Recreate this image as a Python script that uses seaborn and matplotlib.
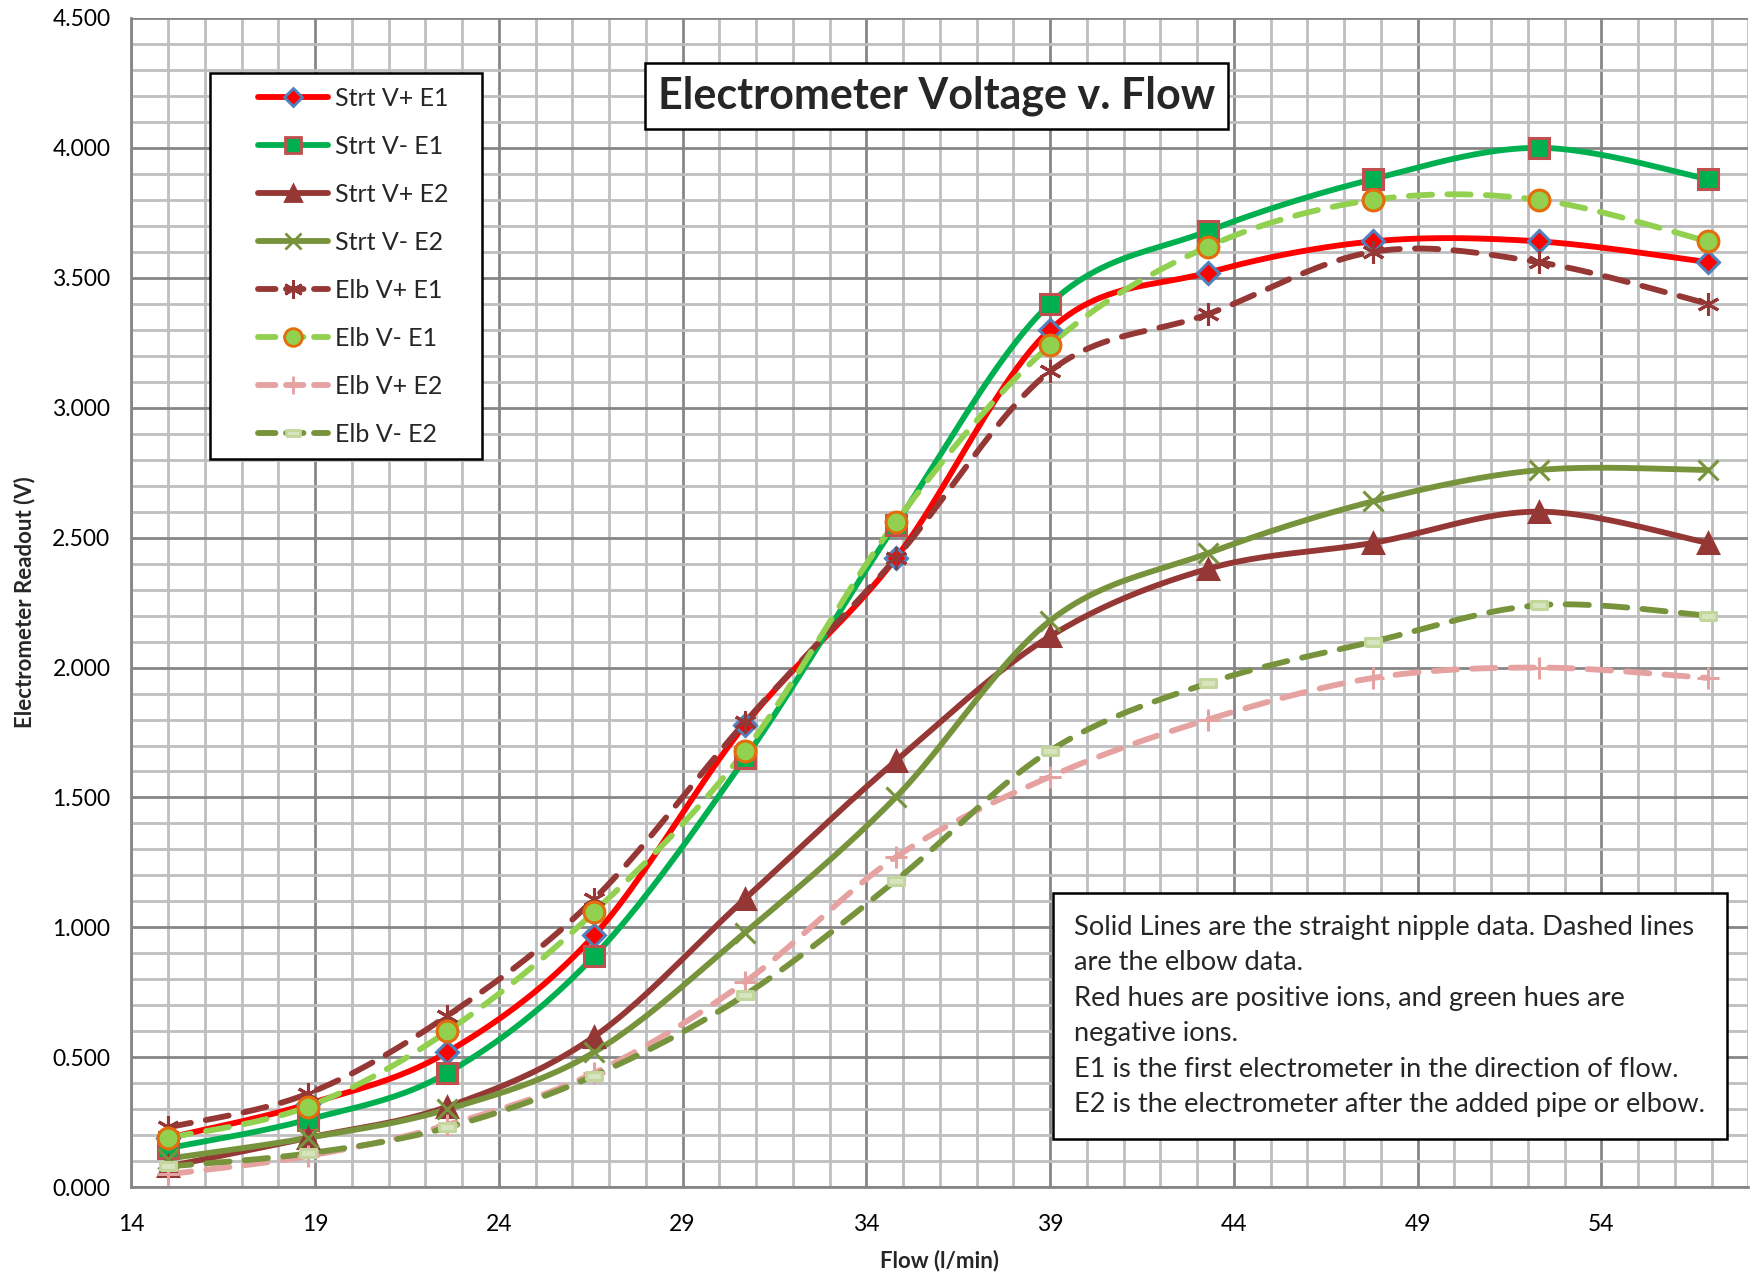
import numpy as np
import pandas as pd
import matplotlib
matplotlib.use("Agg")
import matplotlib.pyplot as plt
from matplotlib.lines import Line2D
from matplotlib.patches import Rectangle
from matplotlib.ticker import MultipleLocator
import seaborn as sns

# flow values (l/min)
flow = [15.0, 18.8, 22.6, 26.6, 30.7, 34.8, 39.0, 43.3, 47.8, 52.3, 56.9]

# electrometer readouts (V)
strt_vp_e1 = [0.19, 0.32, 0.52, 0.97, 1.78, 2.42, 3.30, 3.52, 3.64, 3.64, 3.56]
strt_vm_e1 = [0.15, 0.26, 0.44, 0.89, 1.65, 2.55, 3.40, 3.68, 3.88, 4.00, 3.88]
strt_vp_e2 = [0.08, 0.19, 0.31, 0.58, 1.11, 1.64, 2.12, 2.38, 2.48, 2.60, 2.48]
strt_vm_e2 = [0.11, 0.19, 0.30, 0.52, 0.98, 1.50, 2.18, 2.44, 2.64, 2.76, 2.76]
elb_vp_e1 = [0.23, 0.36, 0.66, 1.11, 1.79, 2.42, 3.14, 3.36, 3.60, 3.56, 3.40]
elb_vm_e1 = [0.19, 0.31, 0.60, 1.06, 1.68, 2.56, 3.24, 3.62, 3.80, 3.80, 3.64]
elb_vp_e2 = [0.05, 0.12, 0.24, 0.44, 0.79, 1.27, 1.58, 1.80, 1.96, 2.00, 1.96]
elb_vm_e2 = [0.08, 0.13, 0.23, 0.43, 0.74, 1.18, 1.68, 1.94, 2.10, 2.24, 2.20]

series_names = ["Strt V+ E1", "Strt V- E1", "Strt V+ E2", "Strt V- E2",
                "Elb V+ E1", "Elb V- E1", "Elb V+ E2", "Elb V- E2"]
series_values = [strt_vp_e1, strt_vm_e1, strt_vp_e2, strt_vm_e2,
                 elb_vp_e1, elb_vm_e1, elb_vp_e2, elb_vm_e2]

note = ("Solid Lines are the straight nipple data. Dashed lines\n"
        "are the elbow data.\n"
        "Red hues are positive ions, and green hues are\n"
        "negative ions.\n"
        "E1 is the first electrometer in the direction of flow.\n"
        "E2 is the electrometer after the added pipe or elbow.")

rect_marker = [(-1, -0.45), (1, -0.45), (1, 0.45), (-1, 0.45), (-1, -0.45)]

# line colour, dashed, marker, marker size, face, edge
styles = {
    "Strt V+ E1": ("#FF0000", False, "D", 11, "#FF0000", "#4F81BD"),
    "Strt V- E1": ("#00B050", False, "s", 14, "#00B050", "#C0504D"),
    "Strt V+ E2": ("#953735", False, "^", 14, "#953735", "#953735"),
    "Strt V- E2": ("#77933C", False, "x", 14, "#77933C", "#77933C"),
    "Elb V+ E1": ("#953735", True, (6, 2, 0), 16, "#953735", "#953735"),
    "Elb V- E1": ("#92D050", True, "o", 15, "#92D050", "#E46C0A"),
    "Elb V+ E2": ("#E6A1A1", True, "+", 16, "#E6A1A1", "#E6A1A1"),
    "Elb V- E2": ("#77933C", True, rect_marker, 12, "#D7E4BD", "#C3D69B"),
}


def smooth(x, y, n=24):
    # Catmull-Rom curve through the points, like Excel's smoothed lines
    p = np.column_stack([x, y])
    p = np.vstack([p[0], p, p[-1]])
    out = []
    t = np.linspace(0, 1, n, endpoint=False)[:, None]
    for i in range(1, len(p) - 2):
        p0, p1, p2, p3 = p[i - 1], p[i], p[i + 1], p[i + 2]
        seg = 0.5 * ((2 * p1) + (-p0 + p2) * t + (2 * p0 - 5 * p1 + 4 * p2 - p3) * t ** 2
                     + (-p0 + 3 * p1 - 3 * p2 + p3) * t ** 3)
        out.append(seg)
    out.append(p[-2][None, :])
    out = np.vstack(out)
    return out[:, 0], out[:, 1]


sns.set_theme(style="white")
plt.rcParams["font.family"] = ["Lato", "DejaVu Sans"]

fig = plt.figure(figsize=(17.5, 12.78), dpi=100)
ax = fig.add_axes([0.075, 0.071, 0.924, 0.915])

ax.set_xlim(14, 58)
ax.set_ylim(0, 4.5)
ax.xaxis.set_major_locator(MultipleLocator(5))
ax.xaxis.set_minor_locator(MultipleLocator(1))
ax.yaxis.set_major_locator(MultipleLocator(0.5))
ax.yaxis.set_minor_locator(MultipleLocator(0.1))
ax.grid(True, which="minor", color="#BFBFBF", linewidth=2.0, zorder=0)
ax.grid(True, which="major", color="#868686", linewidth=2.0, zorder=0)
ax.set_axisbelow(True)
ax.set_xticks(np.arange(14, 58, 5))
ax.yaxis.set_major_formatter(plt.FuncFormatter(lambda v, p: f"{v:.3f}"))

for name, vals in zip(series_names, series_values):
    col, dashed, mk, ms, fc, ec = styles[name]
    sx, sy = smooth(flow, vals)
    sns.lineplot(x=sx, y=sy, ax=ax, color=col, linewidth=4.2, sort=False,
                 linestyle=(0, (4, 2.6)) if dashed else "-",
                 solid_capstyle="round", dash_capstyle="round", zorder=3)
    ax.plot(flow, vals, linestyle="none", marker=mk, markersize=ms,
            markerfacecolor=fc, markeredgecolor=ec, markeredgewidth=2.2, zorder=4)

for side in ["top", "right"]:
    ax.spines[side].set_visible(False)
for side in ["left", "bottom"]:
    ax.spines[side].set_color("#868686")
    ax.spines[side].set_linewidth(2)

ax.tick_params(axis="both", which="major", length=7, width=1.5, color="#868686",
               labelsize=16.5, labelcolor="black", pad=12, direction="out")
ax.tick_params(axis="both", which="minor", length=0)
ax.tick_params(axis="y", pad=8)
ax.set_xlabel("Flow (l/min)", fontsize=16, fontweight="bold", labelpad=11)
ax.set_ylabel("Electrometer Readout (V)", fontsize=16, fontweight="bold", labelpad=12)

handles = []
for name in series_names:
    col, dashed, mk, ms, fc, ec = styles[name]
    handles.append(Line2D([0], [0], color=col, linewidth=4.2,
                          linestyle=(0, (3.0, 1.8)) if dashed else "-",
                          solid_capstyle="round", dash_capstyle="round",
                          marker=mk, markersize=ms * 0.85, markerfacecolor=fc,
                          markeredgecolor=ec, markeredgewidth=2))

# legend frame drawn separately so the side padding can differ from the top
fig.patches.append(Rectangle((0.12, 0.6408), 0.1554, 0.3021, transform=fig.transFigure,
                             facecolor="white", edgecolor="black", linewidth=1.8,
                             zorder=5))
leg = fig.legend(handles, series_names, loc="upper left",
                 bbox_to_anchor=(0.143, 0.938), frameon=False,
                 fontsize=18, handlelength=2.8, labelspacing=1.0,
                 borderpad=0.3, handletextpad=0.3, borderaxespad=0)
leg.set_zorder(6)

fig.text(0.535, 0.925, "Electrometer Voltage v. Flow", fontsize=31, fontweight="bold",
         ha="center", va="center",
         bbox=dict(boxstyle="square,pad=0.3", facecolor="white", edgecolor="black",
                   linewidth=1.8))

fig.text(0.614, 0.284, note, fontsize=19.6, ha="left", va="top", linespacing=1.52,
         bbox=dict(boxstyle="square,pad=0.8", facecolor="white", edgecolor="black",
                   linewidth=1.8), zorder=6)

fig.savefig("out.png", dpi=100, facecolor="white")
